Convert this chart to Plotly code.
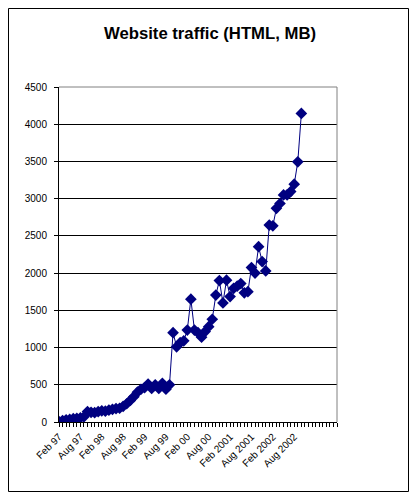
"""
Website traffic (HTML, MB) - monthly totals, Feb 97 onwards.
Output: out.html
"""
import plotly.graph_objects as go

# monthly traffic in MB, starting Feb 97
traffic_mb = [
    5, 20, 30, 35, 45, 50, 55, 70,
    140, 130, 125, 140, 150, 145, 160, 170, 180, 185,
    210, 245, 290, 340, 400, 440, 460, 510, 450, 500, 450, 520, 440, 500,
    1200, 1010, 1065, 1090, 1235, 1650, 1235, 1200, 1140, 1215, 1280, 1380,
    1705, 1900, 1600, 1905, 1685, 1795, 1825, 1860, 1735, 1750,
    2075, 2000, 2355, 2155, 2030, 2645, 2635, 2870, 2935,
    3050, 3050, 3095, 3195, 3495, 4145,
]

# one label every 6 months
month_labels = [
    "Feb 97", "Aug 97", "Feb 98", "Aug 98", "Feb 99", "Aug 99",
    "Feb 00", "Aug 00", "Feb 2001", "Aug 2001", "Feb 2002", "Aug 2002",
]
label_step = 6
n_slots = 78  # axis runs a few empty months past the data

y_ticks = list(range(0, 4501, 500))

NAVY = "#000080"
FONT = "Liberation Sans, Arial, sans-serif"

# page body adds 8px, so the figure itself is a bit smaller
W, H = 401, 484
L, R, T, B = 51, 72, 79, 70
pw, ph = W - L - R, H - T - B

months = list(range(len(traffic_mb)))

fig = go.Figure(go.Scatter(
    x=months, y=traffic_mb,
    mode="lines+markers",
    line=dict(color=NAVY, width=1),
    marker=dict(symbol="diamond", size=9, color=NAVY),
    showlegend=False,
))

fig.update_layout(
    width=W, height=H,
    margin=dict(l=L, r=R, t=T, b=B),
    paper_bgcolor="white", plot_bgcolor="white",
    font=dict(family=FONT, size=10, color="black"),
    title=dict(
        text="<b>Website traffic (HTML, MB)</b>",
        x=(210 - 8) / W, xanchor="center", xref="container",
        y=1 - 25 / H, yanchor="middle", yref="container",
        font=dict(family=FONT, size=16.7, color="black"),
    ),
    xaxis=dict(
        range=[0, n_slots],
        tickmode="array",
        tickvals=[i * label_step for i in range(len(month_labels))],
        ticktext=month_labels,
        tickangle=-45,
        ticks="outside", ticklen=4, tickcolor="black",
        showgrid=False, zeroline=False,
        showline=True, linecolor="black", linewidth=1,
        minor=dict(tickmode="linear", tick0=0, dtick=1,
                   ticks="outside", ticklen=4, tickcolor="black",
                   showgrid=False),
        fixedrange=True,
    ),
    yaxis=dict(
        range=[0, 4500],
        tickvals=y_ticks,
        ticks="outside", ticklen=4, tickcolor="black",
        ticklabelstandoff=5,
        showgrid=True, gridcolor="black", gridwidth=1,
        zeroline=False,
        showline=True, linecolor="black", linewidth=1,
        fixedrange=True,
    ),
)

# grey plot-area border on top and right
fig.add_shape(type="path", path="M 0 1 L 1 1 L 1 0",
              xref="paper", yref="paper",
              line=dict(color="#808080", width=1), layer="above")

# chart-area frame around the whole picture
fig.add_shape(type="rect", xref="paper", yref="paper",
              x0=(0.5 - L) / pw, x1=(W - 0.5 - L) / pw,
              y0=(T + ph - (H - 0.5)) / ph, y1=(T + ph - 0.5) / ph,
              line=dict(color="black", width=1), layer="below")

fig.write_html("out.html")
